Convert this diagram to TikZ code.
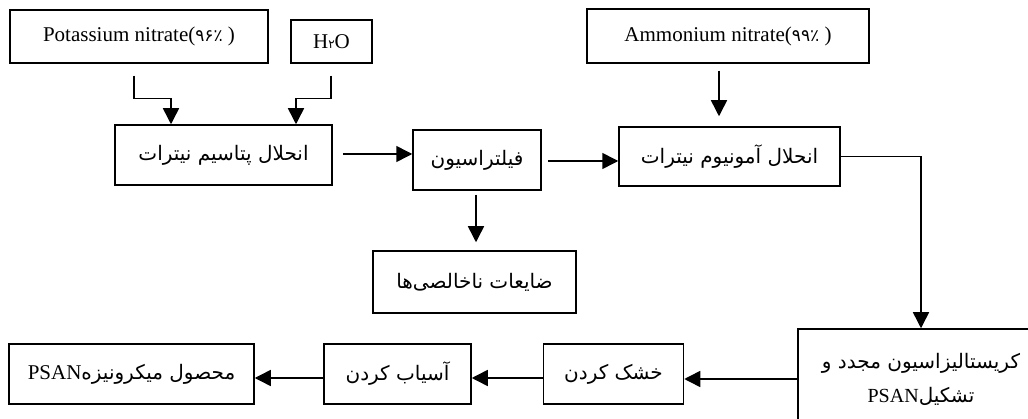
\documentclass[tikz,border=0pt]{standalone}
\usepackage{fontspec}
\setmainfont{Liberation Serif}
\newfontfamily\arabicfont[Script=Arabic]{DejaVu Sans}
\newfontfamily\digfont{DejaVu Sans}
\TeXXeTstate=1
\usetikzlibrary{arrows.meta}
\begin{document}
\begin{tikzpicture}[x=1pt,y=-1pt,
  box/.style={draw,line width=1.5pt,rectangle,inner sep=0pt,font=\fontsize{21}{24}\selectfont},
  fa/.style={font=\fontsize{20}{34}\selectfont\arabicfont},
  arr/.style={line width=1.5pt,-{Triangle[length=16pt,width=16pt]}}]
\useasboundingbox (0,0) rectangle (1028,419);
% top inputs
\node[box,minimum width=258pt,minimum height=53pt] (kn) at (139,36.5) {Potassium nitrate({\digfont\fontsize{17}{18}\selectfont ۹۶٪} )};
\node[box,minimum width=81pt,minimum height=43pt] (h2o) at (331.5,41.5) {H{\digfont\fontsize{12}{12}\selectfont ۲}O};
\node[box,minimum width=282pt,minimum height=54pt] (an) at (728,36) {Ammonium nitrate({\digfont\fontsize{17}{18}\selectfont ۹۹٪} )};
% process
\node[box,fa,minimum width=217pt,minimum height=60pt] (kd) at (223.5,155) {\beginR انحلال پتاسیم نیترات\endR};
\node[box,fa,minimum width=128pt,minimum height=60pt] (filt) at (477,160) {\beginR فیلتراسیون\endR};
\node[box,fa,minimum width=221pt,minimum height=59pt] (and) at (729.5,156.5) {\beginR انحلال آمونیوم نیترات\endR};
\node[box,fa,minimum width=203pt,minimum height=62pt] (waste) at (474.5,282) {\beginR ضایعات ناخالصی‌ها\endR};
\node[box,fa,align=center,minimum width=246pt,minimum height=100pt] (cryst) at (921,379) {\beginR کریستالیزاسیون مجدد و\endR\\\beginR تشکیل\beginL{\rmfamily\fontsize{20}{34}\selectfont PSAN}\endL\endR};
\node[box,fa,minimum width=140pt,minimum height=60pt] (dry) at (613.5,374) {\beginR خشک کردن\endR};
\node[box,fa,minimum width=147pt,minimum height=60pt] (grind) at (397.5,374) {\beginR آسیاب کردن\endR};
\node[box,fa,minimum width=245pt,minimum height=60pt] (prod) at (131.5,374) {\beginR محصول میکرونیزه\beginL{\rmfamily\fontsize{21}{24}\selectfont PSAN}\endL\endR};
% connectors
\draw[arr] ([shift={(-5,12)}]kn.south) -- ++(0,23) -| ([xshift=-52.5]kd.north);
\draw[arr] ([shift={(-0.5,12)}]h2o.south) -- ++(0,23) -| ([xshift=72.5]kd.north);
\draw[arr] ([shift={(10,-1)}]kd.east) -- ([shift={(0,-1)}]kd.east -| filt.west);
\draw[arr] ([shift={(6,1)}]filt.east) -- ([shift={(0,1)}]filt.east -| and.west);
\draw[arr] ([shift={(-9,7)}]an.south) -- ([shift={(-10.5,-10)}]and.north);
\draw[arr] ([shift={(-1,4)}]filt.south) -- ([shift={(1.5,-8)}]waste.north);
\draw[arr] (and.east) -| (cryst.north);
\draw[arr] (cryst.west) -- (cryst.west -| dry.east);
\draw[arr] ([shift={(0,4)}]dry.west) -- ([shift={(0,4)}]grind.east);
\draw[arr] ([shift={(0,4)}]grind.west) -- ([shift={(0,4)}]prod.east);
\end{tikzpicture}
\end{document}
